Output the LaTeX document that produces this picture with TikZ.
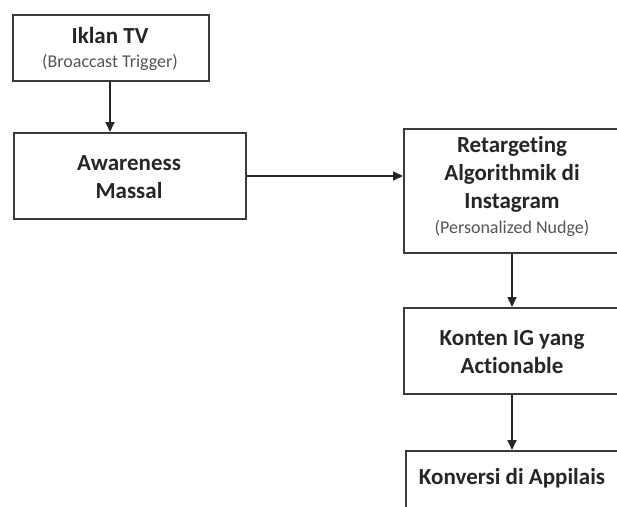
\documentclass[tikz,border=0pt]{standalone}
\usepackage{fontspec}
\setmainfont{Carlito}[Ligatures=NoCommon]
\usetikzlibrary{arrows.meta}
\definecolor{boxline}{HTML}{3A3A3A}
\definecolor{subgray}{HTML}{555555}
\begin{document}
\begin{tikzpicture}[x=1pt,y=-1pt,
  box/.style={draw=boxline,line width=2pt,fill=white,inner sep=0pt,anchor=north west},
  ttl/.style={font=\bfseries\fontsize{23}{28}\selectfont,align=center,text=black!85,inner sep=0pt},
  sub/.style={font=\fontsize{18}{20}\selectfont,text=subgray,inner sep=0pt},
  arr/.style={-{Triangle[length=10pt,width=9pt]},line width=1.6pt,black!85}]
\useasboundingbox (0,0) rectangle (617,506);
\clip (0,0) rectangle (617,506);
% boxes
\node[box,minimum width=196pt,minimum height=66pt] (tv) at (12,14) {};
\node[ttl] (tvt) at (110,36) {Iklan TV};
\node[sub] (tvs) at (110,62) {(Broaccast Trigger)};

\node[box,minimum width=232pt,minimum height=86pt] (aw) at (13,132) {};
\node[ttl] (awt) at (129,177) {Awareness\\Massal};

\node[box,minimum width=218pt,minimum height=124pt] (rt) at (403,128) {};
\node[ttl] (rtt) at (512,174) {Retargeting\\Algorithmik di\\Instagram};
\node[sub] (rts) at (512,228) {(Personalized Nudge)};

\node[box,minimum width=218pt,minimum height=86pt] (kt) at (403,307) {};
\node[ttl] (ktt) at (512,352) {Konten IG yang\\Actionable};

\node[box,minimum width=216pt,minimum height=90pt] (kv) at (405,450) {};
\node[ttl] (kvt) at (512,478) {Konversi di Appilais};

% arrows
\draw[arr] (tv.south -| 110,0) -- (aw.north -| 110,0);
\draw[arr] (aw.east) -- (aw.east -| rt.west);
\draw[arr] (rt.south -| 512,0) -- (kt.north -| 512,0);
\draw[arr] (kt.south -| 512,0) -- (kv.north -| 512,0);
\end{tikzpicture}
\end{document}
